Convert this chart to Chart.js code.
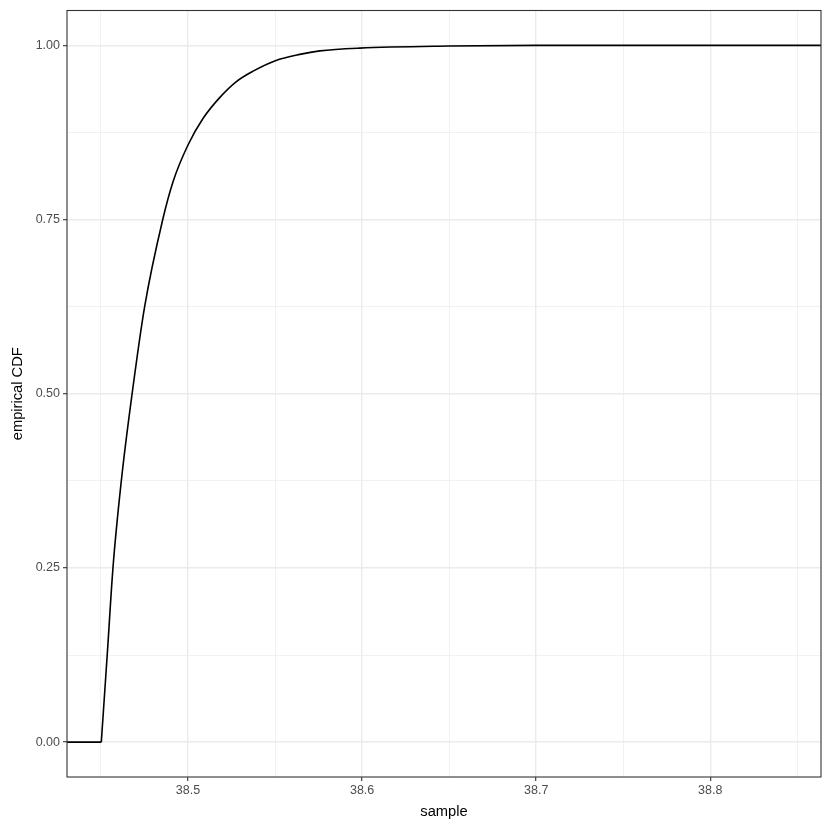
<!DOCTYPE html>
<html>
<head>
<meta charset="utf-8">
<script src="https://cdn.jsdelivr.net/npm/chart.js@4"></script>
<style>
    html, body { margin: 0; padding: 0; background: #fff; }
    #wrap { width: 830px; height: 830px; }
</style>
</head>
<body>
<div id="wrap"><canvas id="ecdf"></canvas></div>
<script>
// values
// flat part left of the smallest sample
let pad_x = [38.43, 38.4502]
let pad_y = [0, 0]
// rising part of the empirical CDF
let sample_x = [38.4502, 38.4536, 38.4569, 38.4617, 38.4679, 38.4751, 38.4855,
    38.4915, 38.5, 38.5086, 38.5182, 38.5278, 38.5374, 38.5502,
    38.5642, 38.5757, 38.5986, 38.65, 38.7, 38.87]
let cdf_y = [0, 0.125, 0.25, 0.375, 0.5, 0.625, 0.75,
    0.805, 0.857, 0.895, 0.925, 0.948, 0.963, 0.978,
    0.987, 0.992, 0.996, 0.999, 1.0, 1.0]

let x_major = [38.5, 38.6, 38.7, 38.8]
let x_minor = [38.45, 38.55, 38.65, 38.75, 38.85]
let y_major = [0, 0.25, 0.5, 0.75, 1]
let y_minor = [0.125, 0.375, 0.625, 0.875]

let x_range = [38.4305, 38.8636]
let y_range = [-0.05, 1.05]

const font_family = "'Liberation Sans', Arial, sans-serif"

function is_major(list, v) {
    return list.some(m => Math.abs(m - v) < 1e-9)
}

function to_points(xs, ys) {
    let pts = []
    for (let i = 0; i < xs.length; i++) {
        pts.push({ x: xs[i], y: ys[i] })
    }
    return pts
}

// ggplot style panel border
const panel_border = {
    id: 'panel_border',
    afterDatasetsDraw(chart) {
        let a = chart.chartArea
        let ctx = chart.ctx
        ctx.save()
        ctx.strokeStyle = '#333333'
        ctx.lineWidth = 1.1
        ctx.strokeRect(a.left, a.top, a.right - a.left, a.bottom - a.top)
        ctx.restore()
    }
}

let line_style = {
    borderColor: '#000000',
    borderWidth: 1.6,
    pointRadius: 0,
    fill: false
}

let ecdf = new Chart(document.getElementById('ecdf').getContext('2d'), {
    type: 'line',
    data: {
        datasets: [
            Object.assign({ label: 'pad', data: to_points(pad_x, pad_y) }, line_style),
            Object.assign({ label: 'ecdf', data: to_points(sample_x, cdf_y), cubicInterpolationMode: 'monotone' }, line_style)
        ]
    },
    options: {
        responsive: true,
        maintainAspectRatio: false,
        animation: false,
        layout: { padding: { top: 9, right: 9, left: 0, bottom: 0 } },
        plugins: {
            legend: { display: false },
            tooltip: { enabled: false }
        },
        scales: {
            x: {
                type: 'linear',
                min: x_range[0],
                max: x_range[1],
                afterBuildTicks: axis => {
                    axis.ticks = x_minor.concat(x_major).sort((a, b) => a - b).map(v => ({ value: v }))
                },
                afterFit: scale => { scale.height = 53 },
                border: { display: false },
                grid: {
                    color: '#EBEBEB',
                    lineWidth: c => is_major(x_major, c.tick.value) ? 1.4 : 0.7,
                    tickColor: c => is_major(x_major, c.tick.value) ? '#333333' : 'rgba(0,0,0,0)',
                    tickLength: 4,
                    tickWidth: 1.1
                },
                ticks: {
                    autoSkip: false,
                    maxRotation: 0,
                    padding: 2,
                    color: '#4D4D4D',
                    font: { family: font_family, size: 12.5 },
                    callback: v => is_major(x_major, v) ? v.toFixed(1) : ''
                },
                title: {
                    display: true,
                    text: 'sample',
                    color: '#000000',
                    font: { family: font_family, size: 14.7 },
                    padding: { top: 0, bottom: 9 }
                }
            },
            y: {
                type: 'linear',
                min: y_range[0],
                max: y_range[1],
                afterBuildTicks: axis => {
                    axis.ticks = y_minor.concat(y_major).sort((a, b) => a - b).map(v => ({ value: v }))
                },
                afterFit: scale => { scale.width = 67 },
                border: { display: false },
                grid: {
                    color: '#EBEBEB',
                    lineWidth: c => is_major(y_major, c.tick.value) ? 1.4 : 0.7,
                    tickColor: c => is_major(y_major, c.tick.value) ? '#333333' : 'rgba(0,0,0,0)',
                    tickLength: 4,
                    tickWidth: 1.1
                },
                ticks: {
                    autoSkip: false,
                    padding: 3,
                    color: '#4D4D4D',
                    font: { family: font_family, size: 12.5 },
                    callback: v => is_major(y_major, v) ? v.toFixed(2) : ''
                },
                title: {
                    display: true,
                    text: 'empirical CDF',
                    color: '#000000',
                    font: { family: font_family, size: 14.7 },
                    padding: { top: 9, bottom: 0 }
                }
            }
        }
    },
    plugins: [panel_border]
})
</script>
</body>
</html>
